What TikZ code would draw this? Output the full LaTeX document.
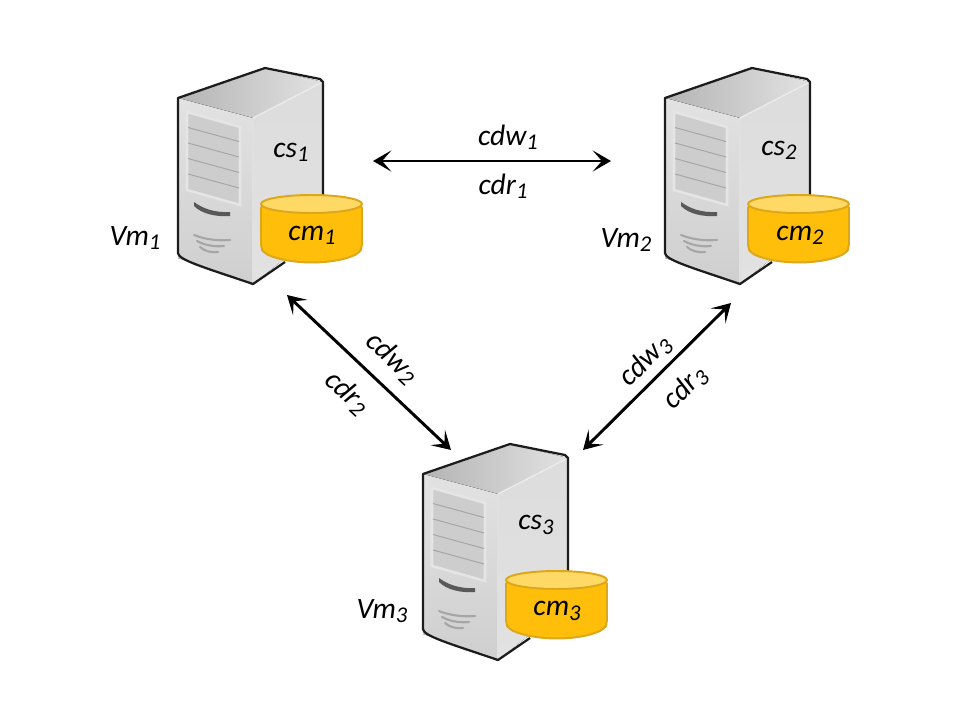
\documentclass[tikz,border=0pt]{standalone}
\usepackage{fontspec}
\setmainfont{Carlito}
\usepackage{tikz}
\usetikzlibrary{arrows.meta}

\newcommand{\idx}[1]{\raisebox{-0.3ex}{\fontsize{16}{16}\selectfont #1}}

\definecolor{caseedge}{HTML}{1C1C1C}
\definecolor{casefront}{HTML}{CFCFCF}
\definecolor{caseside}{HTML}{E2E2E2}
\definecolor{casetop}{HTML}{B4B4B4}
\definecolor{panelgrey}{HTML}{CDCDCD}
\definecolor{cylbody}{HTML}{FFBE0A}
\definecolor{cyltop}{HTML}{FFD966}
\definecolor{cyledge}{HTML}{DDA71A}

\tikzset{
    lbl/.style={font=\fontsize{21}{21}\selectfont\itshape, text=black, inner sep=0pt},
    link/.style={line width=2.1pt, {Stealth[length=13pt,width=15pt,inset=6.5pt]}-{Stealth[length=13pt,width=15pt,inset=6.5pt]}},
    server/.pic={
        % case faces
        \fill[left color=casetop, right color=caseside] (0,0) -- (87,-30) -- (145,-16) -- (75,20) -- cycle;
        \fill[bottom color=casefront, top color=caseside] (0,0) -- (75,20) -- (75,186) -- (0,160) -- cycle;
        \fill[bottom color=caseside, top color=caseside!70!casefront] (75,20) -- (145,-16) -- (145,130) -- (75,186) -- cycle;
        \draw[white!88!black, line width=1.4pt] (75,20) -- (75,186);
        \draw[white!92!black, line width=1pt] (75,20) -- (145,-16);
        % drive panel
        \draw[white!90!black, line width=1.8pt, fill=panelgrey] (9,14) -- (62,29) -- (62,107) -- (9,92) -- cycle;
        \foreach \j in {1, 2, 3, 4} {
            \draw[black!35, line width=0.7pt] (10,14 + \j*15.5) -- (61,28 + \j*15.5);
        }
        % slot and vents
        \fill[black!65] (16,104) .. controls (24,110) and (36,115) .. (52,114) -- (52,118) .. controls (38,119) and (24,116) .. (16,108) -- cycle;
        \foreach \j in {0, 1, 2} {
            \draw[black!35, line width=1.5pt, line cap=round] (16 + \j*3,137 + \j*6) .. controls (26,141 + \j*6) and (38 - \j*2,143 + \j*6) .. (52 - \j*6,142 + \j*6);
        }
        % outline
        \draw[caseedge, line width=1.6pt, line join=round] (145,120) -- (145,-16) -- (142,-19) -- (87,-30) -- (0,0) -- (0,155) .. controls (0,162) and (28,170) .. (75,186) -- (107,164);
        % cylinder
        \fill[cylbody, draw=cyledge, line width=1.4pt, rounded corners=3pt] (83,106) -- (83,150) -- (86,155) .. controls (112,167) and (156,167) .. (181,155) -- (184,150) -- (184,106) -- cycle;
        \fill[cyltop, draw=cyledge, line width=1.4pt] (133.5,106) ellipse (50.5 and 9);
    }
}

\begin{document}
\begin{tikzpicture}[x=0.025cm, y=-0.025cm]
    \useasboundingbox (0,0) rectangle (961,723);
    % Draw the three servers
    \pic at (178,98) {server};
    \pic at (665,98) {server};
    \pic at (423,474) {server};
    % Labels on the servers
    \node[lbl] (cs1) at (291,152) {cs\idx{1}};
    \node[lbl] (cs2) at (779,150) {cs\idx{2}};
    \node[lbl] (cs3) at (536,525) {cs\idx{3}};
    \node[lbl] (cm1) at (312,235) {cm\idx{1}};
    \node[lbl] (cm2) at (800,235) {cm\idx{2}};
    \node[lbl] (cm3) at (557,611) {cm\idx{3}};
    \node[lbl] (vm1) at (135,238) {Vm\idx{1}};
    \node[lbl] (vm2) at (626,240) {Vm\idx{2}};
    \node[lbl] (vm3) at (382,611) {Vm\idx{3}};
    % End points of the links
    \coordinate (top1) at (373,161);
    \coordinate (top2) at (611,161);
    \coordinate (left1) at (287,295);
    \coordinate (left2) at (451,450);
    \coordinate (right1) at (731,303);
    \coordinate (right2) at (583,450);
    % Draw the links
    \draw[link] (top1) -- (top2);
    \draw[link] (left1) -- (left2);
    \draw[link] (right1) -- (right2);
    % Add labels
    \node[lbl] (cdw1) at (508,137) {cdw\idx{1}};
    \node[lbl] (cdr1) at (503,186) {cdr\idx{1}};
    \node[lbl, rotate=-43] (cdw2) at (392,358) {cdw\idx{2}};
    \node[lbl, rotate=-43] (cdr2) at (347,393) {cdr\idx{2}};
    \node[lbl, rotate=45] (cdw3) at (645,361) {cdw\idx{3}};
    \node[lbl, rotate=45] (cdr3) at (685,388) {cdr\idx{3}};
\end{tikzpicture}
\end{document}
